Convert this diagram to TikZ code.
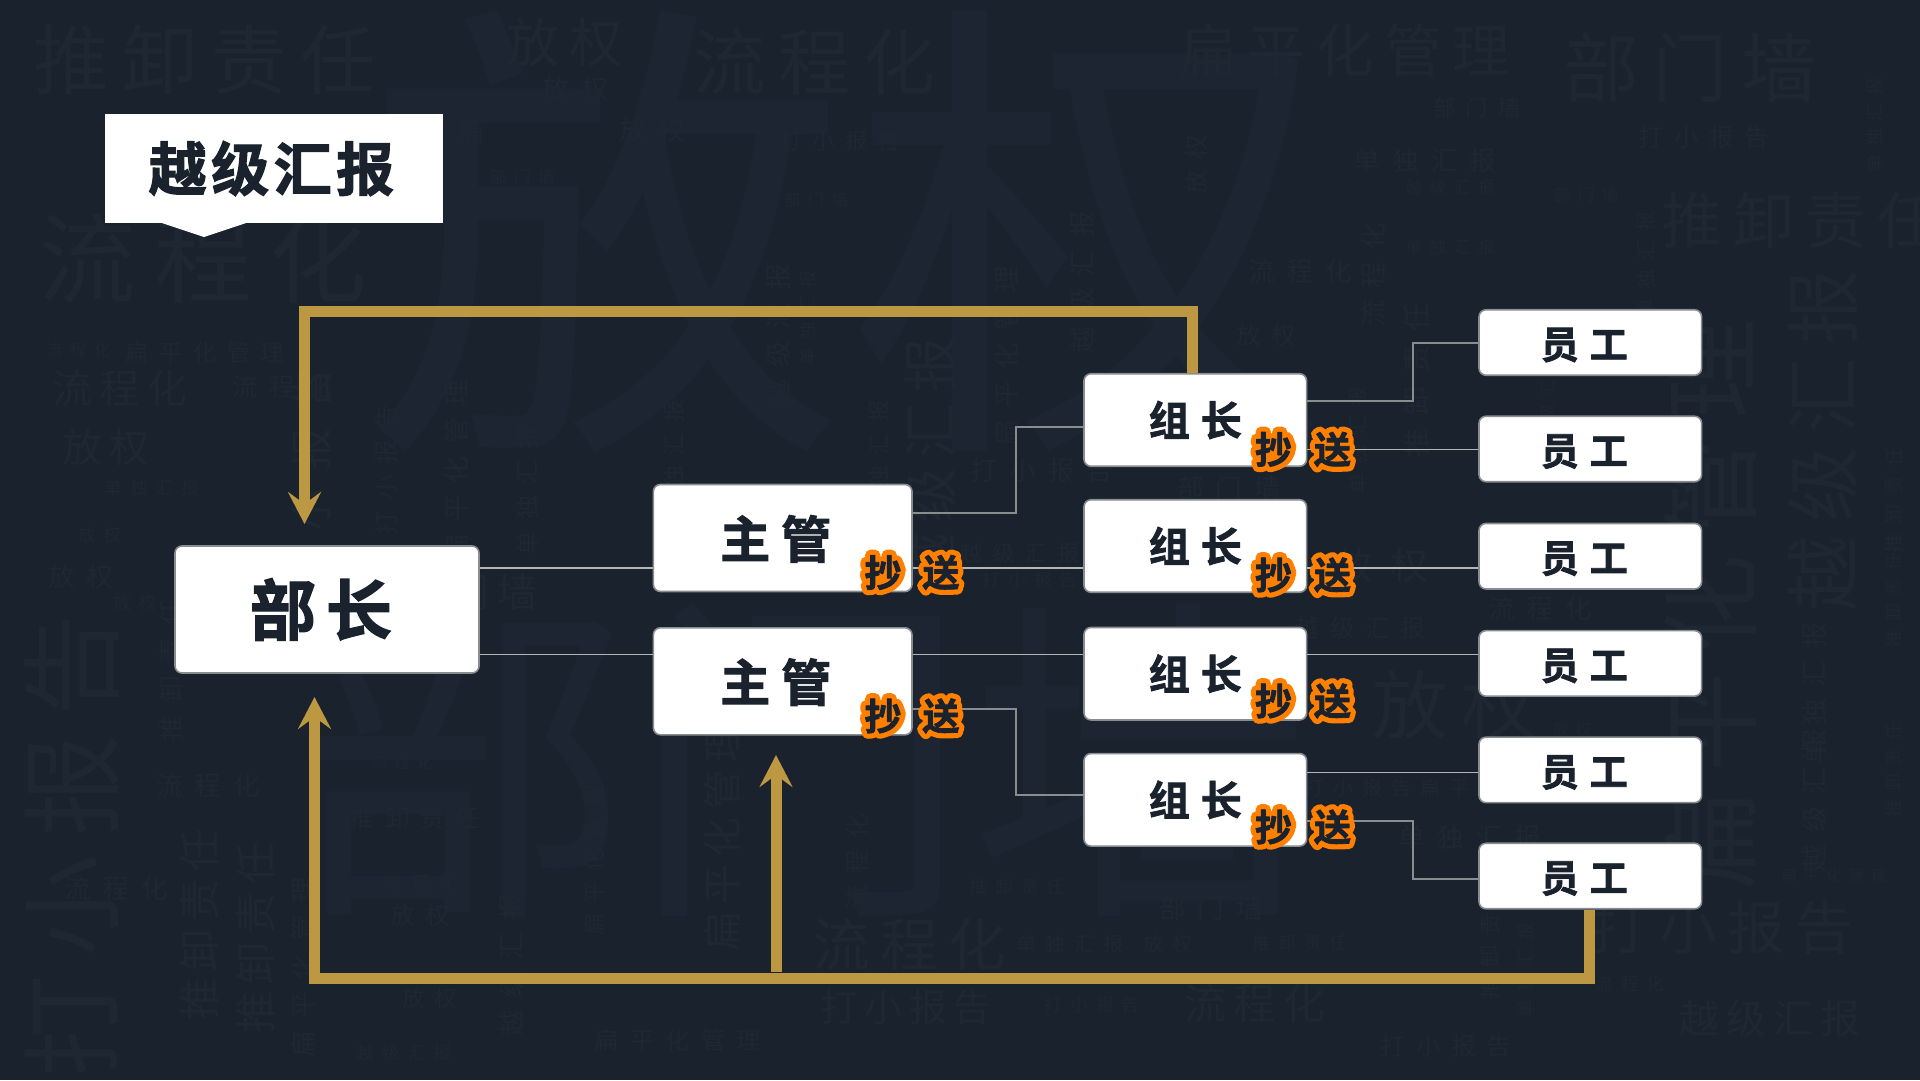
\documentclass[tikz,border=0pt]{standalone}
\usepackage{fontspec}
\usetikzlibrary{arrows.meta}
\setmainfont{Noto Sans CJK SC}
\newfontfamily\hvb{Noto Sans CJK SC Bold}[FakeBold=2]
\newfontfamily\hvo{Noto Sans CJK SC Bold}[FakeBold=30]
\newfontfamily\bgl{Noto Sans CJK SC}[LetterSpace=18]
\newfontfamily\bgm{Noto Sans CJK SC}[LetterSpace=45]
\newfontfamily\bgz{Noto Sans CJK SC}
\definecolor{bgc}{HTML}{1A222D}
\definecolor{fnt}{HTML}{1F2733}
\definecolor{fntb}{HTML}{1C2531}
\definecolor{gold}{HTML}{BC9843}
\definecolor{orng}{HTML}{FF8000}
\definecolor{edge}{HTML}{8A8D90}
\definecolor{thin}{HTML}{B4B7B9}
\newcommand\sz[1]{\fontsize{#1pt}{#1pt}\selectfont}
\newcommand\scaled[1]{\pgfmathsetmacro\bgsize{#1*1.11}\sz{\bgsize}}
% x, y, size, rotation, text
\newcommand\bgt[5]{\node[bgtx,rotate=#4] (b#1x#2) at (#1,#2) {\bgl\scaled{#3}#5};}
\newcommand\bgs[5]{\node[bgtx,rotate=#4] (s#1x#2) at (#1,#2) {\bgm\scaled{#3}#5};}
\newcommand\bgh[4]{\node[bgtx,text=fntb] (h#1x#2) at (#1,#2) {\bgz\sz{#3}#4};}
\newcommand\cc[1]{\special{pdf:code 1 j}{\color{orng}\hvo\sz{37}\rlap{#1}}{\color{bgc}#1}}
\tikzset{
 bgtx/.style={inner sep=0pt,text=fnt},
 box/.style={draw=edge,line width=1.6pt,fill=white,rounded corners=7pt,inner sep=0pt,text=bgc,font=\hvb},
 bossbox/.style={box,minimum width=304pt,minimum height=127pt},
 mgrbox/.style={box,minimum width=258.6pt,minimum height=107pt,text height=40pt,text depth=0pt},
 leadbox/.style={box,minimum width=222.6pt,minimum height=92.5pt},
 staffbox/.style={box,minimum width=222.6pt,minimum height=65.5pt,text height=32pt,text depth=0pt},
 ccmark/.style={inner sep=0pt,font=\hvb\sz{37}},
 elbow/.style={draw=edge,line width=2pt},
 flat/.style={draw=thin,line width=1.3pt},
 goldline/.style={draw=gold,line width=11pt},
 goldarrow/.style={goldline,-{Stealth[length=32pt,width=33pt,inset=12pt,fill=gold]}},
}
\begin{document}
\begin{tikzpicture}[x=1pt,y=-1pt]
\useasboundingbox (0,0) rectangle (1920,1080);
\fill[bgc] (0,0) rectangle (1920,1080);
% huge background words
\bgh{606}{232}{480}{放}
\bgh{1090}{232}{480}{权}
\bgh{460}{760}{340}{部}
\bgh{800}{760}{340}{门}
\bgh{1140}{760}{340}{墙}
% background words, horizontal
\bgt{205}{60}{68}{0}{推卸责任}
\bgt{565}{42}{48}{0}{放权}
\bgs{575}{88}{24}{0}{放权}
\bgt{815}{62}{65}{0}{流程化}
\bgt{1345}{50}{52}{0}{扁平化管理}
\bgt{1690}{68}{68}{0}{部门墙}
\bgs{1477}{108}{20}{0}{部门墙}
\bgs{1704}{137}{22}{0}{打小报告}
\bgs{1425}{160}{24}{0}{单独汇报}
\bgs{1450}{187}{15}{0}{越级汇报}
\bgs{1586}{195}{15}{0}{部门墙}
\bgt{1800}{220}{55}{0}{推卸责任}
\bgs{1450}{247}{15}{0}{单独汇报}
\bgs{1300}{271}{24}{0}{流程化}
\bgs{1266}{335}{22}{0}{放权}
\bgs{1042}{470}{24}{0}{打小报告}
\bgs{1229}{488}{24}{0}{部门墙}
\bgs{432}{131}{24}{0}{部门墙}
\bgs{652}{130}{24}{0}{放权}
\bgs{522}{177}{15}{0}{部门墙}
\bgs{816}{200}{15}{0}{部门墙}
\bgs{840}{141}{20}{0}{打小报告}
\bgt{203}{258}{88}{0}{流程化}
\bgs{78}{350}{15}{0}{流程化}
\bgs{205}{353}{21}{0}{扁平化管理}
\bgt{120}{388}{36}{0}{流程化}
\bgs{282}{387}{23}{0}{流程化}
\bgt{106}{447}{36}{0}{放权}
\bgs{152}{488}{16}{0}{单独汇报}
\bgs{100}{535}{16}{0}{放权}
\bgs{81}{576}{24}{0}{放权}
\bgs{135}{603}{16}{0}{放权}
\bgs{116}{888}{24}{0}{流程化}
\bgs{208}{785}{24}{0}{流程化}
\bgs{404}{1053}{16}{0}{越级汇报}
\bgs{430}{998}{20}{0}{放权}
\bgs{420}{915}{22}{0}{放权}
\bgs{421}{883}{17}{0}{流程化}
\bgs{402}{763}{14}{0}{流程化}
\bgs{415}{818}{22}{0}{推卸责任}
\bgs{678}{1040}{22}{0}{扁平化管理}
\bgt{909}{945}{52}{0}{流程化}
\bgt{906}{1007}{34}{0}{打小报告}
\bgt{470}{592}{36}{0}{部门墙}
\bgt{1455}{705}{68}{0}{放权}
\bgs{1382}{565}{34}{0}{放权}
\bgs{1020}{553}{20}{0}{越级汇报}
\bgs{1030}{580}{16}{0}{打小报告}
\bgs{1211}{908}{24}{0}{部门墙}
\bgs{1070}{944}{18}{0}{单独汇报}
\bgs{1168}{944}{18}{0}{放权}
\bgs{1017}{887}{16}{0}{推卸责任}
\bgs{1300}{943}{16}{0}{推卸责任}
\bgs{1092}{1005}{16}{0}{打小报告}
\bgt{1255}{1003}{38}{0}{流程化}
\bgt{1722}{928}{52}{0}{打小报告}
\bgs{1630}{984}{16}{0}{流程化}
\bgt{1770}{1018}{36}{0}{越级汇报}
\bgs{1446}{1046}{22}{0}{打小报告}
\bgs{1540}{608}{24}{0}{流程化}
\bgs{1360}{628}{22}{0}{越级汇报}
\bgs{1470}{837}{24}{0}{单独汇报}
\bgs{1387}{788}{18}{0}{打小报告扁平}
\bgs{1572}{730}{14}{0}{放权}
\bgs{1834}{876}{14}{0}{扁平化管理}
% background words, turned
\bgs{1373}{275}{24}{90}{流程化}
\bgs{1082}{282}{24}{90}{越级汇报}
\bgs{1006}{356}{24}{90}{扁平化管理}
\bgs{1196}{165}{22}{90}{放权}
\bgs{1416}{380}{26}{90}{推卸责任}
\bgt{72}{846}{92}{90}{打小报告}
\bgt{1823}{440}{68}{90}{越级汇报}
\bgt{1710}{605}{90}{90}{扁平化管理}
\bgt{930}{463}{50}{90}{越级汇报}
\bgt{199}{925}{38}{90}{推卸责任}
\bgt{255}{938}{38}{90}{推卸责任}
\bgs{171}{670}{24}{90}{推卸责任}
\bgs{303}{967}{24}{90}{扁平化管理}
\bgs{511}{965}{24}{90}{越级汇报}
\bgt{722}{837}{36}{90}{扁平化管理}
\bgs{857}{862}{22}{90}{流程化}
\bgs{594}{860}{20}{90}{扁平化管理}
\bgs{312}{480}{38}{90}{打小报告}
\bgs{386}{470}{22}{90}{打小报告}
\bgs{456}{470}{24}{90}{扁平化管理}
\bgs{527}{490}{22}{90}{单独汇报}
\bgs{778}{335}{24}{90}{越级汇报}
\bgs{808}{318}{16}{90}{单独汇报}
\bgs{674}{460}{20}{90}{单独汇报}
\bgs{879}{460}{20}{90}{单独汇报}
\bgs{1814}{800}{24}{90}{越级汇报}
\bgs{1814}{693}{24}{90}{单独汇报}
\bgs{1894}{600}{16}{90}{推卸责任}
\bgs{1894}{770}{16}{90}{推卸责任}
\bgs{1894}{500}{18}{90}{推卸责任}
\bgs{1490}{940}{20}{90}{推卸责任}
\bgs{1526}{970}{16}{90}{单独汇报}
\bgs{1646}{265}{18}{90}{单独汇报}
\bgs{1875}{125}{16}{90}{单独汇报}
\bgs{1358}{440}{18}{90}{单独汇报}
\bgs{1548}{400}{14}{90}{越级汇报}
% title
\fill[white] (162,223) -- (204,237) -- (246,223) -- cycle;
\node[fill=white,inner sep=0pt,minimum width=338pt,minimum height=109pt,text=bgc,font=\hvb\sz{58}] (title) at (274,168.5) {越\hspace{4.5pt}级\hspace{4.5pt}汇\hspace{4.5pt}报\kern5pt};
% nodes
\node[bossbox,font=\hvb\sz{66}] (boss) at (327,609.5) {部\hspace{10pt}长\kern12pt};
\node[mgrbox,font=\hvb\sz{50}] (m1) at (782.7,538) {主\hspace{11pt}管\kern14pt};
\node[mgrbox,font=\hvb\sz{50}] (m2) at (782.7,681.3) {主\hspace{11pt}管\kern14pt};
\node[leadbox,font=\hvb\sz{41}] (l1) at (1195.3,420) {组\hspace{11pt}长};
\node[leadbox,font=\hvb\sz{41}] (l2) at (1195.3,546) {组\hspace{11pt}长};
\node[leadbox,font=\hvb\sz{41}] (l3) at (1195.3,673.7) {组\hspace{11pt}长};
\node[leadbox,font=\hvb\sz{41}] (l4) at (1195.3,799.8) {组\hspace{11pt}长};
\node[staffbox,font=\hvb\sz{38}] (s1) at (1590.3,342.5) {员\hspace{11pt}工\kern12pt};
\node[staffbox,font=\hvb\sz{38}] (s2) at (1590.3,449) {员\hspace{11pt}工\kern12pt};
\node[staffbox,font=\hvb\sz{38}] (s3) at (1590.3,556.2) {员\hspace{11pt}工\kern12pt};
\node[staffbox,font=\hvb\sz{38}] (s4) at (1590.3,663.4) {员\hspace{11pt}工\kern12pt};
\node[staffbox,font=\hvb\sz{38}] (s5) at (1590.3,769.9) {员\hspace{11pt}工\kern12pt};
\node[staffbox,font=\hvb\sz{38}] (s6) at (1590.3,876) {员\hspace{11pt}工\kern12pt};
% connectors
\draw[flat] (boss.east |- 0,568) -- (m1.west |- 0,568);
\draw[flat] (boss.east |- 0,654.3) -- (m2.west |- 0,654.3);
\draw[flat] (m1.east |- 0,568) -- (l2.west |- 0,568);
\draw[flat] (m2.east |- 0,654.3) -- (l3.west |- 0,654.3);
\draw[flat] (l1.east |- 0,449.4) -- (s2.west |- 0,449.4);
\draw[flat] (l2.east |- 0,568) -- (s3.west |- 0,568);
\draw[flat] (l3.east |- 0,654.3) -- (s4.west |- 0,654.3);
\draw[flat] (l4.east |- 0,772.4) -- (s5.west |- 0,772.4);
\draw[elbow] (m1.east |- 0,513) -- (1016,513) |- (l1.west |- 0,427);
\draw[elbow] (m2.east |- 0,709) -- (1016,709) |- (l4.west |- 0,795);
\draw[elbow] (l1.east |- 0,400.5) -- (1413,400.5) |- (s1.west);
\draw[elbow] (l4.east |- 0,821) -- (1413,821) |- (s6.west |- 0,879);
% gold arrows
\coordinate (tipboss) at (304.5,524);
\coordinate (tipbossb) at (314.5,697);
\coordinate (tipmgr) at (776,755);
\draw[goldarrow] ([xshift=-2.8pt]l1.north) -- ++(0,-61.8) -| (tipboss);
\draw[goldarrow] ([xshift=-0.8pt]s6.south) -- ++(0,68.8) -| (tipbossb);
\draw[goldarrow] (776,972) -- (tipmgr);
% cc marks
\node[ccmark] (ma) at (883,572.5) {\cc{抄}};
\node[ccmark] (mb) at (941,572.5) {\cc{送}};
\node[ccmark] (mc) at (883,716) {\cc{抄}};
\node[ccmark] (md) at (941,716) {\cc{送}};
\node[ccmark] (la) at (1273.5,449.4) {\cc{抄}};
\node[ccmark] (lb) at (1332.5,449.4) {\cc{送}};
\node[ccmark] (lc) at (1273.5,575) {\cc{抄}};
\node[ccmark] (ld) at (1332.5,575) {\cc{送}};
\node[ccmark] (le) at (1273.5,701) {\cc{抄}};
\node[ccmark] (lf) at (1332.5,701) {\cc{送}};
\node[ccmark] (lg) at (1273.5,827) {\cc{抄}};
\node[ccmark] (lh) at (1332.5,827) {\cc{送}};
\end{tikzpicture}
\end{document}
